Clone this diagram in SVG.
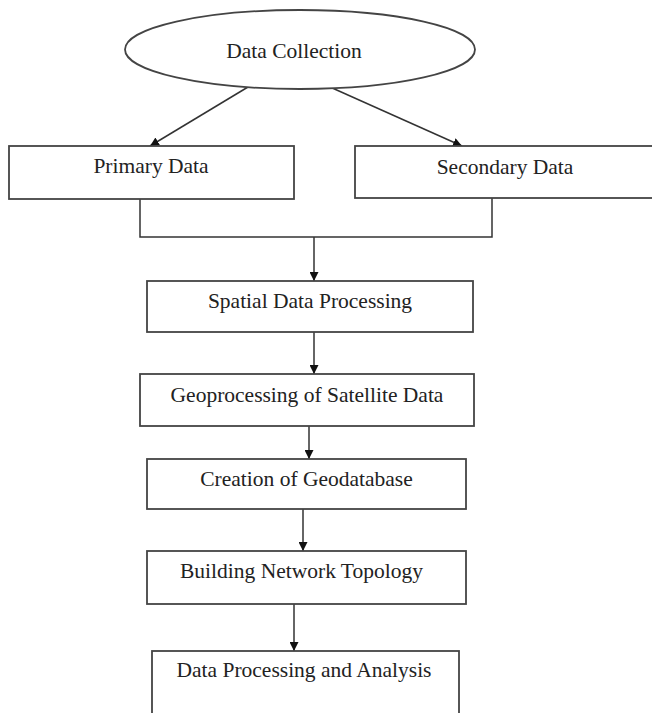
<svg xmlns="http://www.w3.org/2000/svg" width="652" height="713" viewBox="0 0 652 713">
<style>
.box{fill:#fff;stroke:#444;stroke-width:1.8}
.lbl{font-family:"Liberation Serif","Times New Roman",serif;font-size:21.5px;fill:#222;text-anchor:middle}
.con{fill:none;stroke:#333;stroke-width:1.5}
</style>
<defs>
<marker id="ah" viewBox="0 0 10 10" refX="10" refY="5" markerWidth="9" markerHeight="9" markerUnits="userSpaceOnUse" orient="auto">
<path d="M0,0 L10,5 L0,10 z" fill="#111"/>
</marker>
</defs>
<rect width="652" height="713" fill="#fff"/>
<g id="connectors">
<line class="con" x1="248" y1="87" x2="150" y2="146" marker-end="url(#ah)"/>
<line class="con" x1="330" y1="87" x2="462" y2="146" marker-end="url(#ah)"/>
<polyline class="con" points="140,199 140,237 492,237 492,198"/>
<line class="con" x1="314" y1="237" x2="314" y2="281" marker-end="url(#ah)"/>
<line class="con" x1="314" y1="332" x2="314" y2="374" marker-end="url(#ah)"/>
<line class="con" x1="309" y1="426" x2="309" y2="459" marker-end="url(#ah)"/>
<line class="con" x1="303" y1="509" x2="303" y2="551" marker-end="url(#ah)"/>
<line class="con" x1="294" y1="604" x2="294" y2="651" marker-end="url(#ah)"/>
</g>
<g id="data-collection">
<ellipse class="box" cx="300" cy="49.5" rx="175" ry="39.5"/>
<text class="lbl" x="294" y="58">Data Collection</text>
</g>
<g id="primary-data">
<rect class="box" x="9" y="146" width="285" height="53"/>
<text class="lbl" x="151" y="173">Primary Data</text>
</g>
<g id="secondary-data">
<rect class="box" x="355" y="146" width="302" height="52"/>
<text class="lbl" x="505" y="174">Secondary Data</text>
</g>
<g id="spatial-data-processing">
<rect class="box" x="147" y="281" width="326" height="51"/>
<text class="lbl" x="310" y="308">Spatial Data Processing</text>
</g>
<g id="geoprocessing">
<rect class="box" x="140" y="374" width="334" height="52"/>
<text class="lbl" x="307" y="402">Geoprocessing of Satellite Data</text>
</g>
<g id="creation-of-geodatabase">
<rect class="box" x="147" y="459" width="319" height="50"/>
<text class="lbl" x="306.5" y="486">Creation of Geodatabase</text>
</g>
<g id="building-network-topology">
<rect class="box" x="147" y="551" width="319" height="53"/>
<text class="lbl" x="301.5" y="578">Building Network Topology</text>
</g>
<g id="data-processing-analysis">
<rect class="box" x="152" y="651" width="307" height="80"/>
<text class="lbl" x="304" y="677">Data Processing and Analysis</text>
</g>
</svg>
